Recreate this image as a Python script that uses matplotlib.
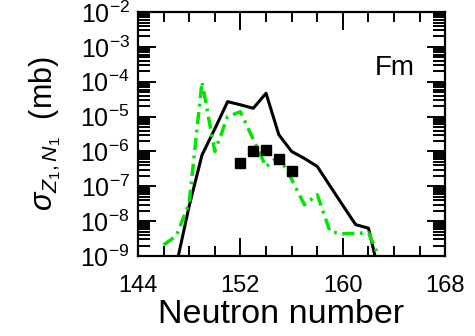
import numpy as np
from matplotlib import pyplot as plt
from matplotlib.ticker import MultipleLocator, LogLocator, FuncFormatter, NullFormatter

plt.rcParams['font.family'] = ['Liberation Sans', 'DejaVu Sans']
plt.rcParams['mathtext.fontset'] = 'custom'
plt.rcParams['mathtext.rm'] = 'Liberation Sans'
plt.rcParams['mathtext.it'] = 'Liberation Sans:italic'
plt.rcParams['mathtext.sf'] = 'Liberation Sans'

# calculation (black solid)
n_calc = [147, 148, 149, 150, 151, 152, 153, 154, 155, 156, 157, 158, 159, 160, 161, 162, 163]
log_calc = [-9.25, -7.56, -6.1, -5.35, -4.57, -4.66, -4.76, -4.33, -5.52, -6.0, -6.2, -6.43,
            -6.99, -7.55, -8.1, -8.2, -9.77]

# second calculation (green dash-dot)
n_alt = [146, 147, 148, 149, 150, 151, 152, 153, 154, 155, 156, 157, 158, 159, 160, 161, 162, 163]
log_alt = [-8.68, -8.42, -7.47, -4.0, -6.0, -5.0, -4.86, -5.65, -6.44, -6.13, -6.8, -7.53, -7.24,
           -8.3, -8.36, -8.35, -8.33, -9.18]

# experimental points
n_exp = [152, 153, 154, 155, 156]
log_exp = [-6.34, -6.0, -5.95, -6.21, -6.55]

fig = plt.figure(figsize=(4.75, 3.36), dpi=100)
ax = fig.add_axes([0.2905, 0.238, 0.647, 0.726])

ax.plot(n_calc, 10.0 ** np.array(log_calc), '-', color='black', lw=2.2)
ax.plot(n_alt, 10.0 ** np.array(log_alt), color='#00e600', lw=2.5,
        linestyle=(0, (3.5, 1.6, 0.8, 1.6)))
ax.plot(n_exp, 10.0 ** np.array(log_exp), 's', color='black', ms=7.5, mec='black')

ax.set_yscale('log')
ax.set_xlim(144, 168)
ax.set_ylim(1e-9, 1e-2)

ax.xaxis.set_major_locator(MultipleLocator(8))
ax.xaxis.set_minor_locator(MultipleLocator(2))
ax.yaxis.set_major_locator(LogLocator(base=10, numticks=20))
ax.yaxis.set_minor_locator(LogLocator(base=10, subs=np.arange(2, 10), numticks=20))
ax.yaxis.set_minor_formatter(NullFormatter())
ax.yaxis.set_major_formatter(FuncFormatter(
    lambda v, p: r'$\mathregular{10^{%d}}$' % int(round(np.log10(v)))))

for sp in ax.spines.values():
    sp.set_linewidth(1.6)
ax.tick_params(which='both', direction='in', top=True, right=True, width=1.4)
ax.tick_params(axis='x', which='major', length=13, labelsize=17, pad=13.5)
ax.tick_params(axis='x', which='minor', length=7)
ax.tick_params(axis='y', which='major', length=13, labelsize=18, pad=6)
ax.tick_params(axis='y', which='minor', length=8.5)

ax.set_xlabel('Neutron number', fontsize=24.5)
ax.xaxis.set_label_coords(0.466, -0.178)
ax.set_ylabel(r'$\sigma_{Z_1,N_1}$  (mb)', fontsize=22, labelpad=12)
ax.text(0.902, 0.742, 'Fm', transform=ax.transAxes, fontsize=20, ha='right', va='baseline')

plt.savefig('out.png', dpi=100)
